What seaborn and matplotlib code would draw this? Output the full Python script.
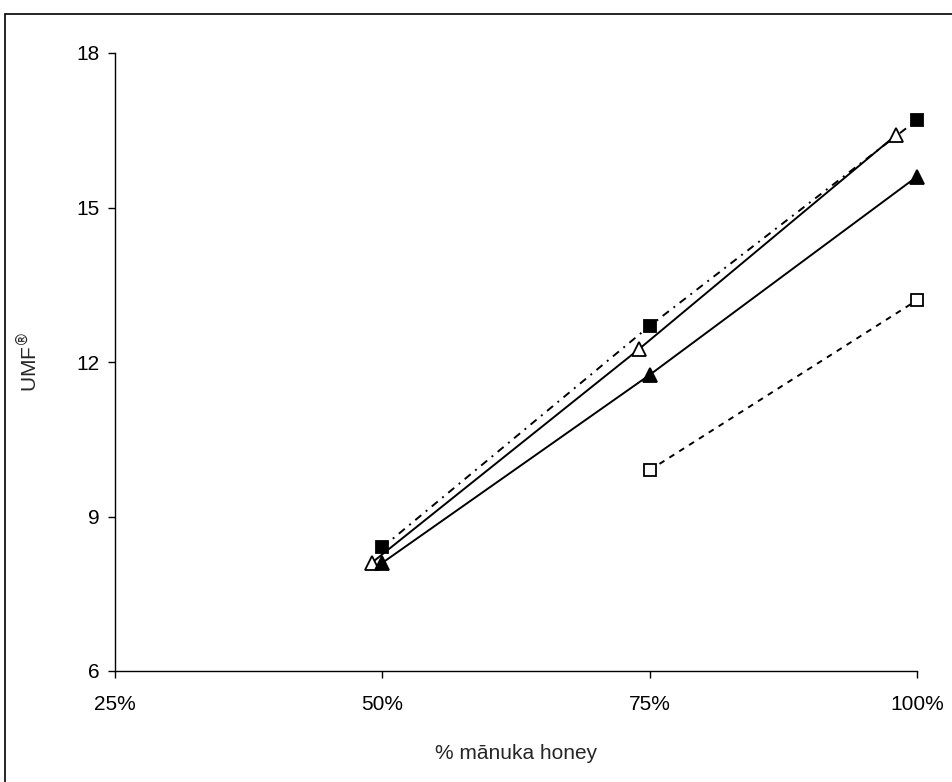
import matplotlib
matplotlib.use("Agg")
import matplotlib.pyplot as plt
import seaborn as sns
import pandas as pd
from matplotlib.patches import Rectangle

# values
pct_filled_sq = [50, 75, 100]
umf_filled_sq = [8.4, 12.7, 16.7]

pct_open_tri = [49, 74, 98]
umf_open_tri = [8.1, 12.25, 16.4]

pct_filled_tri = [50, 75, 100]
umf_filled_tri = [8.1, 11.75, 15.6]

pct_open_sq = [75, 100]
umf_open_sq = [9.9, 13.2]

x_ticks = [25, 50, 75, 100]
x_tick_labels = ["25%", "50%", "75%", "100%"]
y_ticks = [6, 9, 12, 15, 18]

sns.set_style("white")
plt.rcParams["font.family"] = ["Liberation Sans", "DejaVu Sans"]

fig = plt.figure(figsize=(9.53, 7.82), dpi=100)
ax = fig.add_axes([115 / 953, 1 - 671 / 782, (917 - 115) / 953, (671 - 53) / 782])

# (x, y, marker, fill, linestyle)
series = [
    (pct_filled_sq, umf_filled_sq, "s", "black", (0, (4, 3, 1, 3))),
    (pct_open_tri, umf_open_tri, "^", "white", "-"),
    (pct_filled_tri, umf_filled_tri, "^", "black", "-"),
    (pct_open_sq, umf_open_sq, "s", "white", (0, (3, 3))),
]

for xs, ys, mk, fc, ls in series:
    df = pd.DataFrame({"pct": xs, "umf": ys})
    ms = 8.5 if mk == "s" else 10
    sns.lineplot(data=df, x="pct", y="umf", ax=ax, color="black", linewidth=1.4,
                 linestyle=ls, marker=mk, markersize=ms, markerfacecolor=fc,
                 markeredgecolor="black", markeredgewidth=1.3, errorbar=None,
                 clip_on=False, zorder=3)

ax.set_xlim(25, 100)
ax.set_ylim(6, 18)
ax.set_xticks(x_ticks)
ax.set_xticklabels(x_tick_labels)
ax.set_yticks(y_ticks)

for s in ["top", "right"]:
    ax.spines[s].set_visible(False)
for s in ["left", "bottom"]:
    ax.spines[s].set_color("black")
    ax.spines[s].set_linewidth(1.0)

ax.tick_params(axis="both", direction="out", length=5, width=1, color="black",
               labelsize=15, labelcolor="black", left=True, bottom=True)
ax.tick_params(axis="x", pad=12)
ax.tick_params(axis="y", pad=6)

ax.set_xlabel("% mānuka honey", fontsize=15, labelpad=22)
ax.set_ylabel(r"UMF$^{\circledR}$", fontsize=15, labelpad=26)

# outer chart border (cut off at right and bottom)
fig.patches.append(Rectangle((5 / 953, -0.05), 1.1, 1 - 14 / 782 + 0.05,
                             transform=fig.transFigure, fill=False,
                             edgecolor="black", linewidth=1.2))

plt.savefig("out.png", dpi=100)
